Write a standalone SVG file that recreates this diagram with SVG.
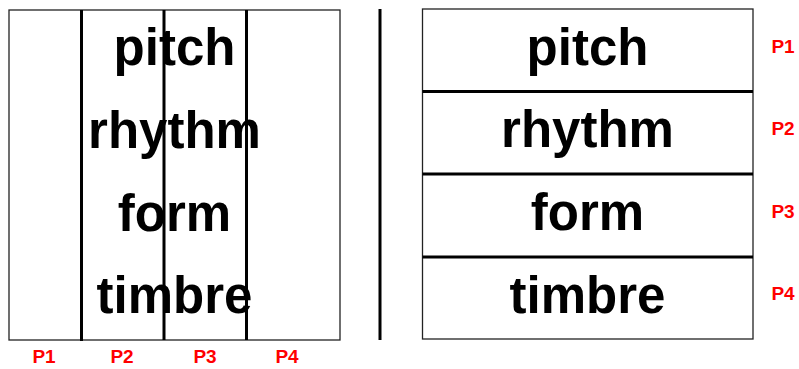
<svg xmlns="http://www.w3.org/2000/svg" width="799" height="369" viewBox="0 0 799 369">
<style>
.frame{fill:#fff;stroke:#222;stroke-width:1.3}
.thick{stroke:#000;stroke-width:3;fill:none}
.word{font-family:"Liberation Sans",Arial,sans-serif;font-weight:bold;font-size:51px;fill:#000;text-anchor:middle}
.lab{font-family:"Liberation Sans",Arial,sans-serif;font-weight:bold;font-size:19px;fill:#f00;text-anchor:middle}
</style>
<rect width="799" height="369" fill="#fff"/>
<g id="left-panel">
<rect class="frame" x="9" y="10" width="331" height="330"/>
<g id="connectors-left">
<line class="thick" x1="81.5" y1="10" x2="81.5" y2="341"/>
<line class="thick" x1="164" y1="10" x2="164" y2="340"/>
<line class="thick" x1="246.5" y1="10" x2="246.5" y2="340"/>
</g>
<text class="word" x="174.5" y="65">pitch</text>
<text class="word" x="174.5" y="148">rhythm</text>
<text class="word" x="174.5" y="231">form</text>
<text class="word" x="174.5" y="313">timbre</text>
<text class="lab" x="44" y="363">P1</text>
<text class="lab" x="122" y="363">P2</text>
<text class="lab" x="205" y="363">P3</text>
<text class="lab" x="287" y="363">P4</text>
</g>
<g id="divider">
<line class="thick" x1="380" y1="9" x2="380" y2="340"/>
</g>
<g id="right-panel">
<rect class="frame" x="422.5" y="9" width="330.5" height="330"/>
<g id="connectors-right">
<line class="thick" x1="422.5" y1="91.5" x2="753" y2="91.5"/>
<line class="thick" x1="422.5" y1="174" x2="753" y2="174"/>
<line class="thick" x1="422.5" y1="257" x2="753" y2="257"/>
</g>
<text class="word" x="587.5" y="65">pitch</text>
<text class="word" x="587.5" y="147">rhythm</text>
<text class="word" x="587.5" y="230">form</text>
<text class="word" x="587.5" y="313">timbre</text>
<text class="lab" x="783" y="53">P1</text>
<text class="lab" x="783" y="135">P2</text>
<text class="lab" x="783" y="218">P3</text>
<text class="lab" x="783" y="300">P4</text>
</g>
</svg>
